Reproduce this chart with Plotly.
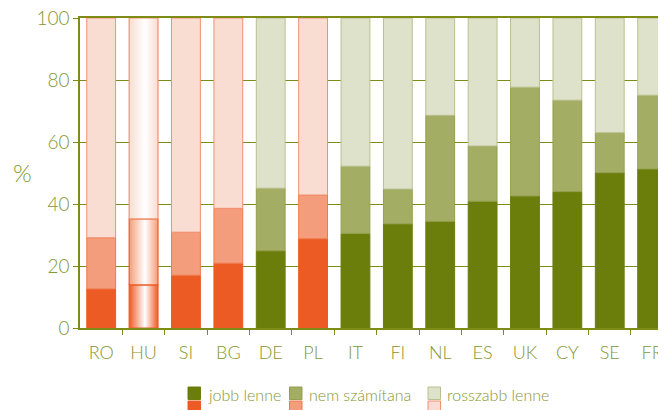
import plotly.graph_objects as go

countries = ["RO", "HU", "SI", "BG", "DE", "PL", "IT", "FI", "NL", "ES", "UK", "CY", "SE", "FR"]
jobb = [12.6, 13.9, 17.0, 20.9, 24.9, 28.8, 30.5, 33.6, 34.4, 40.9, 42.6, 44.0, 50.1, 51.3]
nem = [16.5, 21.3, 13.9, 17.7, 20.2, 14.1, 21.7, 11.2, 34.2, 17.8, 35.1, 29.5, 12.9, 23.8]
rossz = [70.9, 64.8, 69.1, 61.4, 54.9, 57.1, 47.8, 55.2, 31.4, 41.3, 22.3, 26.5, 37.0, 24.9]
orange_group = ["RO", "HU", "SI", "BG", "PL"]
gradient_group = ["HU"]
series_names = ["jobb lenne", "nem számítana", "rosszabb lenne"]

GREEN = ["#6b7d0b", "#a3ad63", "#dfe2ca"]
GREEN_LINE = ["#6b7d0b", "#93a04f", "#b9c090"]
ORANGE = ["#ec5b24", "#f39d7c", "#f9dcd2"]
ORANGE_LINE = ["#ec5b24", "#ef7a50", "#f39070"]
OLIVE = "#7d8c14"
TEXT = "#869633"
FONT = "Lato"
WEIGHT = 300
BAR_W = 0.68

OFF = 8  # page body margin
W, H = 666, 410
ML, MR, MT, MB = 72, 0, 10, 90
pw, ph = W - ML - MR, H - MT - MB


def px_x(x):
    return (x - OFF - ML) / pw


def px_y(y):
    return (H - MB - (y - OFF)) / ph


idx = list(range(len(countries)))
fig = go.Figure()
layers = [jobb, nem, rossz]
bases = [0.0] * len(countries)
for k, vals in enumerate(layers):
    cols = []
    lcols = []
    for c in countries:
        if c in gradient_group:
            cols.append("rgba(0,0,0,0)")
            lcols.append("rgba(0,0,0,0)")
        elif c in orange_group:
            cols.append(ORANGE[k])
            lcols.append(ORANGE_LINE[k])
        else:
            cols.append(GREEN[k])
            lcols.append(GREEN_LINE[k])
    fig.add_trace(go.Bar(
        x=idx, y=vals, base=bases[:], width=BAR_W, name=series_names[k],
        marker=dict(color=cols, line=dict(color=lcols, width=1)),
        showlegend=False, hoverinfo="skip",
    ))
    for i, c in enumerate(countries):
        if c in gradient_group:
            x0, x1 = i - BAR_W / 2, i + BAR_W / 2
            y0, y1 = bases[i], bases[i] + vals[i]
            fig.add_trace(go.Scatter(
                x=[x0, x1, x1, x0, x0], y=[y0, y0, y1, y1, y0],
                mode="lines", fill="toself",
                line=dict(color=ORANGE_LINE[0] if k < 2 else ORANGE_LINE[2], width=1.2),
                fillgradient=dict(type="horizontal",
                                  colorscale=[[0, ORANGE[k]], [0.55, "#ffffff"], [1, ORANGE[k]]]),
                showlegend=False, hoverinfo="skip",
            ))
    bases = [b + v for b, v in zip(bases, vals)]

boundaries = [i + 0.5 for i in idx[:-1]]

fig.update_layout(
    width=W, height=H, barmode="overlay",
    margin=dict(l=ML, r=MR, t=MT, b=MB, autoexpand=False),
    paper_bgcolor="white", plot_bgcolor="white",
    font=dict(family=FONT, color=TEXT, size=17, weight=WEIGHT),
    showlegend=False,
    xaxis=dict(
        range=[-0.5, -0.5 + pw / 42.38], tickvals=idx, ticktext=countries,
        ticks="", showgrid=False, zeroline=False, automargin=False,
        showline=True, linecolor=OLIVE, linewidth=1.5, mirror=True,
        tickfont=dict(size=18, color=TEXT, family=FONT, weight=WEIGHT),
        minor=dict(tickvals=boundaries, ticks="outside", ticklen=5, tickcolor=OLIVE, tickwidth=1, showgrid=False),
        ticklabelstandoff=8,
    ),
    yaxis=dict(
        range=[0, 100], tickvals=[0, 20, 40, 60, 80, 100],
        ticks="outside", ticklen=5, tickcolor=OLIVE, automargin=False,
        ticklabeloverflow="allow",
        showgrid=True, gridcolor=OLIVE, gridwidth=1,
        showline=True, linecolor=OLIVE, linewidth=1.5, zeroline=False,
        tickfont=dict(size=19, color=TEXT, family=FONT, weight=WEIGHT),
    ),
)

annotations = [dict(text="%", x=px_x(22), y=px_y(172), xref="paper", yref="paper",
                    showarrow=False, font=dict(size=24, color=TEXT, family=FONT, weight=WEIGHT),
                    xanchor="center", yanchor="middle")]
shapes = []
legend_x = [188, 289.5, 428]
for k, name in enumerate(series_names):
    sx = legend_x[k]
    shapes.append(dict(type="rect", xref="paper", yref="paper",
                       x0=px_x(sx), x1=px_x(sx + 12.5), y0=px_y(399.5), y1=px_y(387),
                       fillcolor=GREEN[k], line=dict(color=GREEN_LINE[k], width=1)))
    shapes.append(dict(type="rect", xref="paper", yref="paper",
                       x0=px_x(sx), x1=px_x(sx + 12.5), y0=px_y(414), y1=px_y(401),
                       fillcolor=ORANGE[k], line=dict(color=ORANGE_LINE[k], width=1)))
    annotations.append(dict(text=name, x=px_x(sx + 17.5), y=px_y(394), xref="paper", yref="paper",
                            showarrow=False, xanchor="left", yanchor="middle",
                            font=dict(size=16, color=TEXT, family=FONT, weight=WEIGHT)))
fig.update_layout(annotations=annotations, shapes=shapes)

fig.write_html("out.html")
